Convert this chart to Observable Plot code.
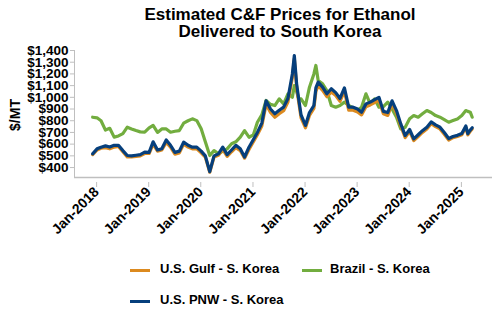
<!DOCTYPE html>
<html>
<head>
<meta charset="utf-8">
<script src="https://cdn.jsdelivr.net/npm/d3@7"></script>
<script src="https://cdn.jsdelivr.net/npm/@observablehq/plot@0.6"></script>
<style>
  html, body { margin: 0; padding: 0; background: #fff; }
  body { width: 500px; height: 330px; position: relative; overflow: hidden; font-family: "Liberation Sans", Arial, sans-serif; }
  #title { position: absolute; left: 60px; width: 440px; top: 6px; text-align: center; font-weight: bold; font-size: 17px; line-height: 17px; color: #000; }
  #chart { position: absolute; left: 0; top: 40px; }
  .leg { position: absolute; font-weight: bold; font-size: 13px; color: #000; white-space: nowrap; }
  .sw { position: absolute; height: 3px; width: 20px; }
</style>
</head>
<body>
<div id="title">Estimated C&amp;F Prices for Ethanol<br>Delivered to South Korea</div>
<div id="chart"></div>
<div id="legend"></div>
<script>
const dates = [
  "2018-01-01","2018-02-01","2018-03-01","2018-04-01","2018-05-01","2018-06-01","2018-07-01","2018-08-01","2018-09-01","2018-10-01","2018-11-01","2018-12-01",
  "2019-01-01","2019-02-01","2019-03-01","2019-04-01","2019-05-01","2019-06-01","2019-07-01","2019-08-01","2019-09-01","2019-10-01","2019-11-01","2019-12-01",
  "2020-01-01","2020-02-01","2020-03-01","2020-04-01","2020-05-01","2020-06-01","2020-07-01","2020-08-01","2020-09-01","2020-10-01","2020-11-01","2020-12-01",
  "2021-01-01","2021-02-01","2021-03-01","2021-04-01","2021-05-01","2021-06-01","2021-07-01","2021-08-01","2021-09-01","2021-10-01","2021-11-01","2021-11-15","2021-12-01","2021-12-15",
  "2022-01-01","2022-02-01","2022-03-01","2022-04-01","2022-04-15","2022-05-01","2022-06-01","2022-07-01","2022-08-01","2022-09-01","2022-10-01","2022-11-01","2022-12-01",
  "2023-01-01","2023-02-01","2023-03-01","2023-04-01","2023-05-01","2023-06-01","2023-07-01","2023-08-01","2023-09-01","2023-10-01","2023-11-01","2023-12-01",
  "2024-01-01","2024-02-01","2024-03-01","2024-04-01","2024-05-01","2024-06-01","2024-07-01","2024-08-01","2024-09-01","2024-10-01","2024-11-01","2024-12-01",
  "2025-01-01","2025-02-01","2025-03-01","2025-03-15","2025-04-01","2025-04-15"
];
const usGulf = [
  510,550,565,570,560,575,580,535,490,490,495,500,
  520,520,600,540,550,615,575,515,525,600,575,560,
  560,525,490,360,490,505,555,495,535,570,545,480,
  555,620,680,755,940,870,830,860,885,960,1170,1330,1090,965,
  825,740,845,905,1050,1100,1060,1005,1045,1015,965,1050,890,
  890,875,850,920,935,955,975,860,845,945,865,755,
  655,710,630,665,700,730,775,750,730,685,635,655,
  665,680,745,680,710,730
];
const brazil = [
  830,825,800,720,735,660,670,690,745,730,716,705,
  702,739,760,700,730,730,702,710,716,779,800,816,
  801,731,620,503,545,517,540,560,603,620,659,716,
  659,680,787,850,973,940,930,987,944,1030,1001,1100,1050,990,
  987,930,1087,1200,1272,1144,1115,1058,930,916,930,959,930,
  910,887,916,1030,944,987,916,920,959,900,830,730,
  745,816,844,830,859,887,870,844,830,810,787,801,
  815,844,887,880,873,830
];
const usPNW = [
  517,560,574,585,575,590,590,545,503,500,505,510,
  531,530,620,550,560,636,590,530,540,617,590,574,
  574,540,500,365,500,517,574,510,550,590,560,490,
  574,640,700,780,970,900,860,890,916,990,1200,1357,1115,990,
  850,760,870,930,1080,1130,1087,1030,1073,1040,990,1080,916,
  916,900,873,944,959,980,1000,880,870,970,887,773,
  673,725,645,680,715,745,790,765,745,700,648,665,
  675,690,755,690,720,740
];
const seriesNames = ["U.S. Gulf - S. Korea", "Brazil - S. Korea", "U.S. PNW - S. Korea"];
const seriesColors = ["#dc8a1f", "#72ad3f", "#063f7c"];
const yTicks = [400,500,600,700,800,900,1000,1100,1200,1300,1400];
const xTicks = ["2018-01-01","2019-01-01","2020-01-01","2021-01-01","2022-01-01","2023-01-01","2024-01-01","2025-01-01"].map(d => new Date(d));
const xDomain = [new Date("2017-08-27"), new Date("2025-09-04")];
const yDomain = [315, 1400];

const parsed = dates.map(d => new Date(d));
const rows = s => parsed.map((d, i) => ({date: d, value: s[i]}));
const gulfRows = rows(usGulf), brazilRows = rows(brazil), pnwRows = rows(usPNW);

const axisColor = "#bfbfbf";
const chart = Plot.plot({
  width: 500,
  height: 215,
  marginLeft: 74,
  marginRight: 8,
  marginTop: 10,
  marginBottom: 78,
  style: {fontFamily: "'Liberation Sans', Arial, sans-serif", fontWeight: "bold", color: "#000", background: "#fff"},
  x: {type: "utc", domain: xDomain},
  y: {domain: yDomain},
  marks: [
    Plot.ruleY([yDomain[0]], {stroke: axisColor, strokeWidth: 1.5}),
    Plot.ruleX([xDomain[0]], {y1: yDomain[0], y2: yDomain[1], stroke: axisColor, strokeWidth: 1}),
    Plot.axisY({ticks: yTicks, tickFormat: d => "$" + d3.format(",")(d), tickSize: 4, tickPadding: 2, fontSize: 13.5, stroke: axisColor, label: null}),
    Plot.axisX({ticks: xTicks, tickFormat: d3.utcFormat("%b-%Y"), tickSize: 5, tickPadding: 2, tickRotate: -45, fontSize: 14, dx: 4, dy: 5, stroke: axisColor, label: null}),
    Plot.line(brazilRows, {x: "date", y: "value", stroke: seriesColors[1], strokeWidth: 3.2, curve: "linear"}),
    Plot.line(gulfRows, {x: "date", y: "value", stroke: seriesColors[0], strokeWidth: 3.2, curve: "linear"}),
    Plot.line(pnwRows, {x: "date", y: "value", stroke: seriesColors[2], strokeWidth: 3.2, curve: "linear"})
  ]
});
chart.querySelectorAll("[aria-label='y-axis tick label'] text, [aria-label='x-axis tick label'] text").forEach(t => t.setAttribute("fill", "#000"));
document.getElementById("chart").appendChild(chart);

// y label
const svgNS = "http://www.w3.org/2000/svg";
const yl = document.createElementNS(svgNS, "text");
yl.textContent = "$/MT";
yl.setAttribute("transform", "translate(20,75) rotate(-90)");
yl.setAttribute("text-anchor", "middle");
yl.setAttribute("font-size", "14");
yl.setAttribute("font-weight", "bold");
yl.setAttribute("fill", "#000");
chart.appendChild(yl);

// legend
const legPos = [[130, 270, 160], [302, 270, 330], [130, 301, 160]];
const legend = document.getElementById("legend");
seriesNames.forEach((n, i) => {
  const [sx, sy, tx] = legPos[i];
  const sw = document.createElement("div");
  sw.className = "sw";
  sw.style.left = sx + "px"; sw.style.top = (sy - 1) + "px"; sw.style.background = seriesColors[i];
  legend.appendChild(sw);
  const t = document.createElement("div");
  t.className = "leg";
  t.textContent = n;
  t.style.left = tx + "px"; t.style.top = (sy - 9) + "px";
  legend.appendChild(t);
});
</script>
</body>
</html>
